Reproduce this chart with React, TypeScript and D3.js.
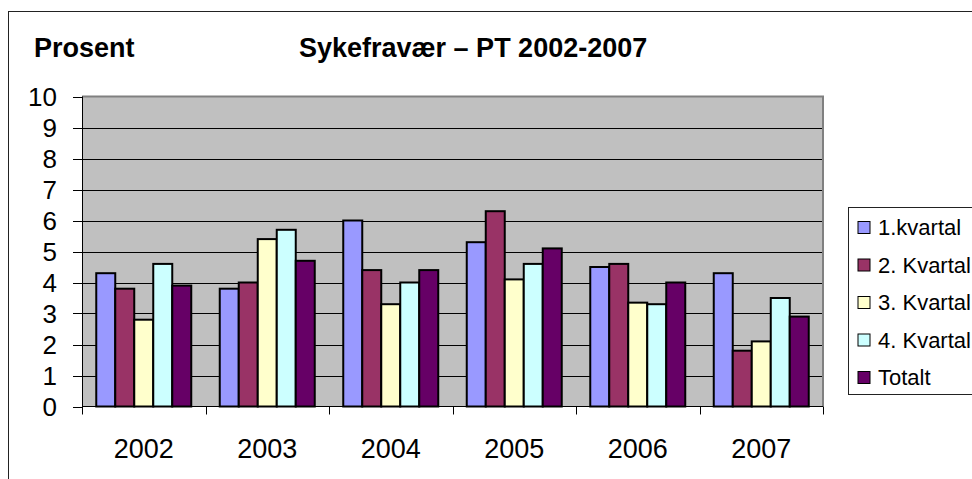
import React from "react";
import * as d3 from "d3";

const years = ["2002", "2003", "2004", "2005", "2006", "2007"];
const seriesNames = ["1.kvartal", "2. Kvartal", "3. Kvartal", "4. Kvartal", "Totalt"];
const colors = ["#9999FF", "#993366", "#FFFFCC", "#CCFFFF", "#660066"];
const q1 = [4.3, 3.8, 6.0, 5.3, 4.5, 4.3];
const q2 = [3.8, 4.0, 4.4, 6.3, 4.6, 1.8];
const q3 = [2.8, 5.4, 3.3, 4.1, 3.35, 2.1];
const q4 = [4.6, 5.7, 4.0, 4.6, 3.3, 3.5];
const total = [3.9, 4.7, 4.4, 5.1, 4.0, 2.9];
const yTicks = [0, 1, 2, 3, 4, 5, 6, 7, 8, 9, 10];

const seriesValues = [q1, q2, q3, q4, total];

export default function App() {
  const W = 972;
  const H = 479;
  const left = 82;
  const right = 823;
  const top = 96.5;
  const bottom = 406.5;
  const font = "'Liberation Sans', Arial, sans-serif";

  const x0 = d3.scaleBand<string>().domain(years).range([left, right]).padding(0);
  const x1 = d3
    .scaleBand<string>()
    .domain(seriesNames)
    .range([0, x0.bandwidth()])
    .paddingInner(0)
    .paddingOuter(0.75);
  const y = d3.scaleLinear().domain([0, 10]).range([bottom, top]);

  const boundaries = years.map((yr) => x0(yr) as number).concat([right]);

  return (
    <div style={{ position: "absolute", left: 0, top: 0 }}>
      <svg width={W} height={H} style={{ display: "block", background: "#fff" }}>
        {/* outer chart border */}
        <rect x={8.5} y={11.5} width={W + 10} height={H + 10} fill="#fff" stroke="#222" strokeWidth={1} />

        {/* titles */}
        <text x={34} y={57} fontFamily={font} fontWeight="bold" fontSize={27} fill="#000">
          Prosent
        </text>
        <text x={299} y={57} fontFamily={font} fontWeight="bold" fontSize={27} fill="#000">
          Sykefravær – PT 2002-2007
        </text>

        {/* plot area */}
        <rect x={left} y={top} width={right - left} height={bottom - top} fill="#C0C0C0" />

        {/* gridlines */}
        {yTicks
          .filter((t) => t > 0 && t < 10)
          .map((t) => (
            <line key={"g" + t} x1={left} x2={right} y1={Math.round(y(t)) + 0.5} y2={Math.round(y(t)) + 0.5} stroke="#000" strokeWidth={1} />
          ))}
        {/* plot border top/right */}
        <line x1={left} x2={right + 1} y1={top} y2={top} stroke="#808080" strokeWidth={2} />
        <line x1={right} x2={right} y1={top} y2={bottom} stroke="#808080" strokeWidth={2} />

        {/* bars */}
        {years.map((yr, i) => (
          <g key={yr} transform={`translate(${x0(yr)},0)`}>
            {seriesNames.map((s, j) => {
              const v = seriesValues[j][i];
              return (
                <rect
                  key={s}
                  x={x1(s) as number}
                  y={y(v)}
                  width={x1.bandwidth()}
                  height={bottom - y(v)}
                  fill={colors[j]}
                  stroke="#000"
                  strokeWidth={2}
                />
              );
            })}
          </g>
        ))}

        {/* axes */}
        <line x1={left + 0.5} x2={left + 0.5} y1={top} y2={bottom} stroke="#000" strokeWidth={1} />
        <line x1={left} x2={right} y1={bottom} y2={bottom} stroke="#000" strokeWidth={1.2} />
        {yTicks.map((t) => (
          <g key={"yt" + t}>
            <line x1={73} x2={left} y1={Math.round(y(t)) + 0.5} y2={Math.round(y(t)) + 0.5} stroke="#000" strokeWidth={1} />
            <text x={57} y={y(t)} dy="0.36em" textAnchor="end" fontFamily={font} fontSize={26} fill="#000">
              {t}
            </text>
          </g>
        ))}
        {boundaries.map((bx, i) => (
          <line key={"xt" + i} x1={Math.round(bx) + 0.5} x2={Math.round(bx) + 0.5} y1={bottom} y2={bottom + 8} stroke="#000" strokeWidth={1} />
        ))}
        {years.map((yr) => (
          <text
            key={"xl" + yr}
            x={(x0(yr) as number) + x0.bandwidth() / 2}
            y={458}
            textAnchor="middle"
            fontFamily={font}
            fontSize={27}
            fill="#000"
          >
            {yr}
          </text>
        ))}

        {/* legend */}
        <rect x={848.5} y={207.5} width={140} height={187} fill="#fff" stroke="#222" strokeWidth={1} />
        {seriesNames.map((s, j) => {
          const cy = 227.5 + j * 37.5;
          return (
            <g key={"lg" + s}>
              <rect x={858} y={cy - 6} width={12} height={12} fill={colors[j]} stroke="#000" strokeWidth={1} />
              <text x={878} y={cy} dy="0.36em" fontFamily={font} fontSize={22} fill="#000">
                {s}
              </text>
            </g>
          );
        })}
      </svg>
    </div>
  );
}
